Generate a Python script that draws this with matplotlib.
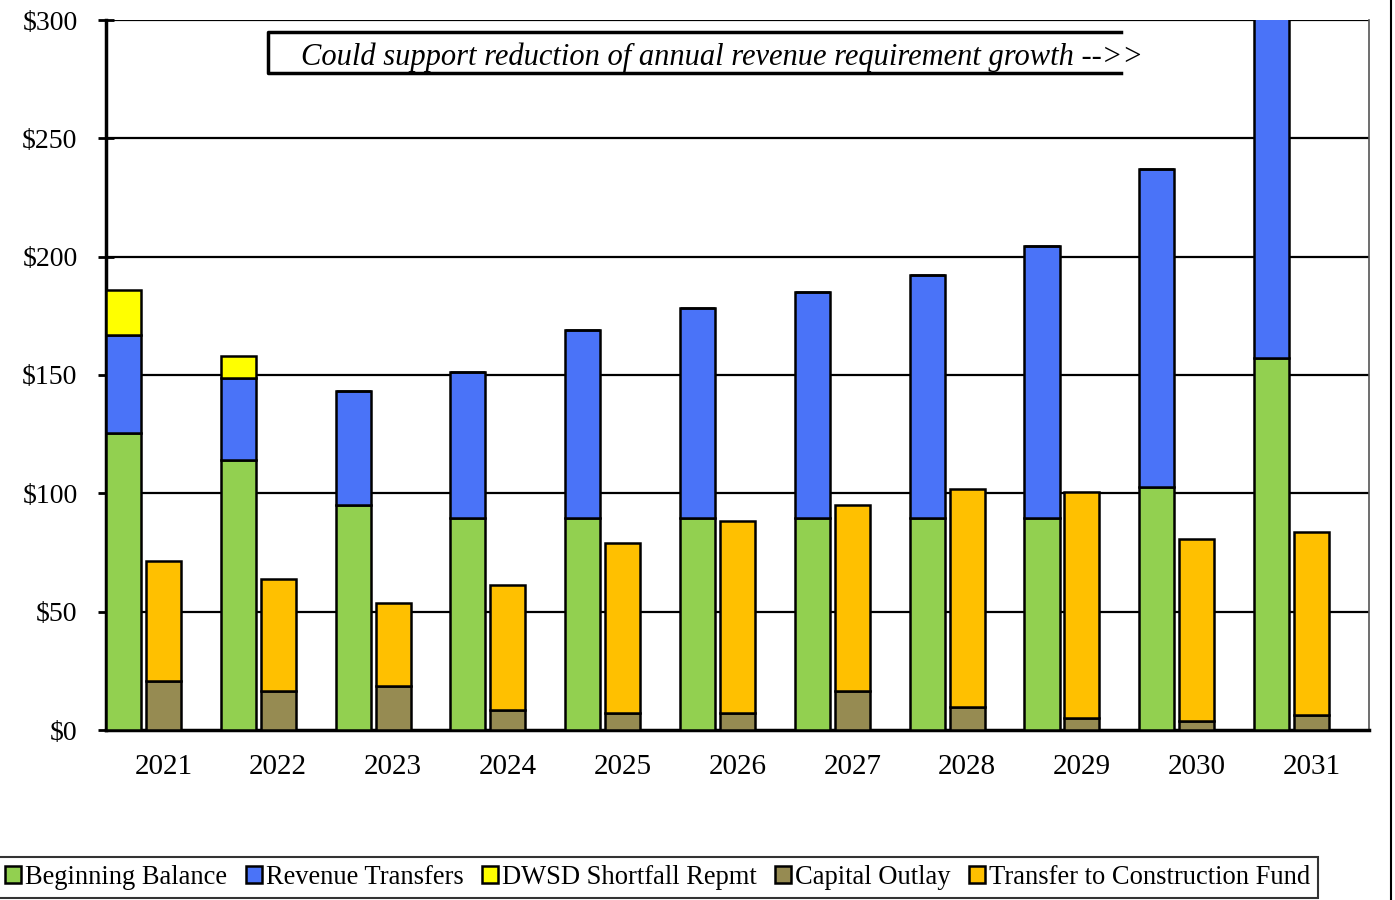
import numpy as np
import matplotlib.pyplot as plt
from matplotlib.lines import Line2D
from matplotlib.patches import Patch

plt.rcParams['font.family'] = ['Liberation Serif', 'DejaVu Serif']

years = ['2021', '2022', '2023', '2024', '2025', '2026',
         '2027', '2028', '2029', '2030', '2031']

# sources ($ millions)
beginning_balance = [125.3, 114.2, 95.0, 89.5, 89.5, 89.5, 89.5, 89.5, 89.5, 102.8, 157.1]
revenue_transfers = [41.7, 34.6, 48.4, 61.7, 79.6, 89.0, 95.7, 102.6, 115.0, 134.3, 153.0]
dwsd_shortfall = [19.0, 9.2, 0, 0, 0, 0, 0, 0, 0, 0, 0]

# uses ($ millions)
capital_outlay = [20.8, 16.4, 18.5, 8.4, 7.3, 7.3, 16.3, 9.6, 5.0, 3.8, 6.2]
construction_transfer = [50.5, 47.2, 35.0, 52.9, 71.9, 81.0, 78.8, 92.2, 95.7, 76.8, 77.6]

green = '#92D050'
blue = '#4A73F8'
yellow = '#FFFF00'
olive = '#968B52'
orange = '#FFC000'

fig = plt.figure(figsize=(13.95, 9), dpi=100)
ax = fig.add_axes([106 / 1395, 170 / 900, 1263 / 1395, 710 / 900])

x = np.arange(len(years))
w = 0.305
xl = x - 0.348
bb = np.array(beginning_balance)
rt = np.array(revenue_transfers)
co = np.array(capital_outlay)

kw = dict(width=w, edgecolor='black', linewidth=1.8, zorder=3)
ax.bar(xl, bb, color=green, **kw)
ax.bar(xl, rt, bottom=bb, color=blue, **kw)
ax.bar(xl, dwsd_shortfall, bottom=bb + rt, color=yellow, **kw)
ax.bar(x, co, color=olive, **kw)
ax.bar(x, construction_transfer, bottom=co, color=orange, **kw)

ax.set_xlim(-0.5, len(years) - 0.5)
ax.set_ylim(0, 300)
yt = np.arange(0, 301, 50)
ax.set_yticks(yt)
ax.set_yticklabels([f'${v}' for v in yt], fontsize=20)
ax.set_xticks(x)
ax.set_xticklabels(years, fontsize=21)
ax.tick_params(axis='x', bottom=False, pad=14)
ax.tick_params(axis='y', direction='inout', length=11, width=2, pad=15)

for v in yt[1:]:
    ax.axhline(v, color='black', linewidth=1.6, zorder=1)

ax.spines['left'].set_linewidth(2.5)
ax.spines['bottom'].set_linewidth(2.5)
ax.spines['top'].set_visible(False)
ax.spines['right'].set_color('#555555')
ax.spines['right'].set_linewidth(1.2)

# callout box, open on the right
box = dict(color='black', linewidth=2.5, transform=ax.transAxes, clip_on=False, zorder=5)
ax.add_line(Line2D([0.804, 0.128, 0.128, 0.804], [0.983, 0.983, 0.925, 0.925], **box))
ax.text(0.154, 0.947, 'Could support reduction of annual revenue requirement growth -->>',
        transform=ax.transAxes, fontsize=22, style='italic', va='center', ha='left', zorder=6)

handles = [Patch(facecolor=c, edgecolor='black', linewidth=1.8) for c in
           [green, blue, yellow, olive, orange]]
labels = ['Beginning Balance', 'Revenue Transfers', 'DWSD Shortfall Repmt',
          'Capital Outlay', 'Transfer to Construction Fund']
leg = fig.legend(handles, labels, loc='upper left', bbox_to_anchor=(-0.002, 43 / 900),
                 ncol=5, fontsize=19.1, frameon=True, fancybox=False, borderaxespad=0,
                 handlelength=0.6, handleheight=0.6, handletextpad=0.15,
                 columnspacing=0.7, borderpad=0.3)
leg.get_frame().set_edgecolor('black')
leg.get_frame().set_linewidth(1.5)

fig.add_artist(Line2D([1391 / 1395, 1391 / 1395], [0, 1], color='black', linewidth=1.5,
                      transform=fig.transFigure))

fig.savefig('out.png', dpi=100)
